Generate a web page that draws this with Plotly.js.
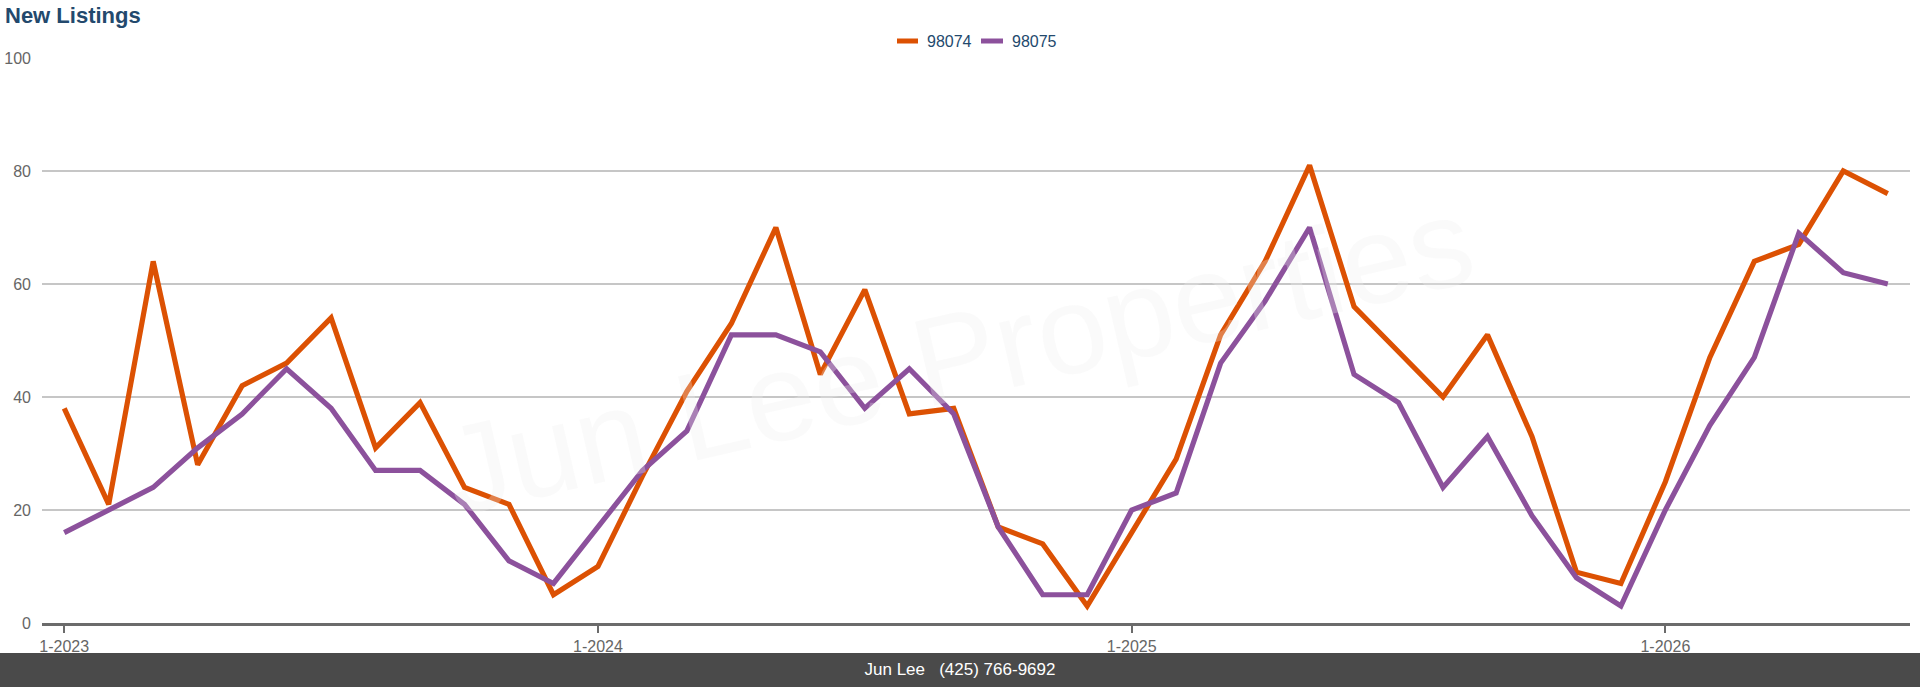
<!DOCTYPE html>
<html>
<head>
<meta charset="utf-8">
<script src="https://cdn.plot.ly/plotly-3.0.1.min.js"></script>
<style>
  html, body { margin: 0; padding: 0; background: #fff; }
  #wrap { position: relative; width: 1920px; height: 687px; overflow: hidden; }
  #chart { position: absolute; left: 0; top: 0; width: 1920px; height: 687px; }
  #footer { position: absolute; left: 0; top: 653px; width: 1920px; height: 34px; background: #4a4a4a;
            color: #fff; font-family: "Liberation Sans", Arial, sans-serif; font-size: 17px;
            line-height: 34px; text-align: center; white-space: pre; }
</style>
</head>
<body>
<div id="wrap">
  <div id="chart"></div>
  <div id="footer">Jun Lee   (425) 766-9692</div>
</div>
<script>
const months = [
  "1-2023","2-2023","3-2023","4-2023","5-2023","6-2023","7-2023","8-2023","9-2023","10-2023","11-2023","12-2023",
  "1-2024","2-2024","3-2024","4-2024","5-2024","6-2024","7-2024","8-2024","9-2024","10-2024","11-2024","12-2024",
  "1-2025","2-2025","3-2025","4-2025","5-2025","6-2025","7-2025","8-2025","9-2025","10-2025","11-2025","12-2025",
  "1-2026","2-2026","3-2026","4-2026","5-2026","6-2026"
];
const tickLabels = ["1-2023","1-2024","1-2025","1-2026"];
const seriesNames = ["98074","98075"];
const seriesColors = ["#dc5103","#8c519c"];
const zip98074 = [38,21,64,28,42,46,54,31,39,24,21,5,
                  10,26,41,53,70,44,59,37,38,17,14,3,
                  16,29,51,64,81,56,48,40,51,33,9,7,
                  25,47,64,67,80,76];
const zip98075 = [16,20,24,31,37,45,38,27,27,21,11,7,
                  17,27,34,51,51,48,38,45,37,17,5,5,
                  20,23,46,57,70,44,39,24,33,19,8,3,
                  20,35,47,69,62,60];
const yTicks = [0,20,40,60,80,100];

const FONT = "Liberation Sans, Arial, Helvetica, sans-serif";
const W = 1920, H = 687;
const M = {l: 42, r: 10, t: 58, b: 64};
const PW = W - M.l - M.r, PH = H - M.t - M.b;
const px = (x) => (x - M.l) / PW;      // container px -> paper x
const py = (y) => (H - M.b - y) / PH;  // container px -> paper y

const values = [zip98074, zip98075];
const traces = values.map((v, i) => ({
  type: "scatter",
  mode: "lines",
  x: months,
  y: v,
  name: seriesNames[i],
  line: {color: seriesColors[i], width: 5.2},
  showlegend: false,
  hoverinfo: "x+y+name"
}));

// custom legend (short swatches like the reference)
const legendItems = [
  {x0: 897, x1: 918, tx: 925},
  {x0: 981, x1: 1003, tx: 1010}
];
const shapes = legendItems.map((it, i) => ({
  type: "line", xref: "paper", yref: "paper",
  x0: px(it.x0), x1: px(it.x1), y0: py(41), y1: py(41),
  line: {color: seriesColors[i], width: 5}
}));
const annotations = legendItems.map((it, i) => ({
  xref: "paper", yref: "paper", x: px(it.tx), y: py(41),
  xanchor: "left", yanchor: "middle", showarrow: false,
  text: seriesNames[i], font: {family: FONT, size: 16, color: "#23496d"}
}));
// watermark
annotations.push({
  xref: "paper", yref: "paper", x: px(958), y: py(355),
  xanchor: "center", yanchor: "middle", showarrow: false,
  text: "Jun Lee Properties", textangle: -13,
  font: {family: FONT, size: 125, color: "rgba(240,240,240,0.30)"}
});

const layout = {
  width: W, height: H,
  margin: M,
  paper_bgcolor: "rgba(0,0,0,0)",
  plot_bgcolor: "#fff",
  font: {family: FONT, size: 16, color: "#666"},
  title: {
    text: "<b>New Listings</b>",
    xref: "container", yref: "container",
    x: 5 / W, xanchor: "left",
    y: 1 - 15 / H, yanchor: "middle",
    font: {family: FONT, size: 22, color: "#23496d"}
  },
  xaxis: {
    type: "category",
    range: [-0.5, months.length - 0.5],
    tickmode: "array",
    tickvals: tickLabels,
    ticktext: tickLabels,
    ticks: "outside", ticklen: 7, tickwidth: 2, tickcolor: "#6b6b6b",
    showline: true, linecolor: "#6b6b6b", linewidth: 2.5,
    showgrid: false, zeroline: false,
    tickfont: {family: FONT, size: 16, color: "#666"},
    fixedrange: true
  },
  yaxis: {
    range: [0, 100],
    tickmode: "array",
    tickvals: yTicks,
    ticktext: yTicks.map(String),
    ticks: "",
    ticklabelstandoff: 10,
    showgrid: true, gridcolor: "#c6c6c6", gridwidth: 1.5,
    zeroline: false, showline: false,
    tickfont: {family: FONT, size: 16, color: "#666"},
    fixedrange: true
  },
  shapes: shapes,
  annotations: annotations,
  showlegend: false
};

Plotly.newPlot("chart", traces, layout, {displayModeBar: false, staticPlot: true});
</script>
</body>
</html>
